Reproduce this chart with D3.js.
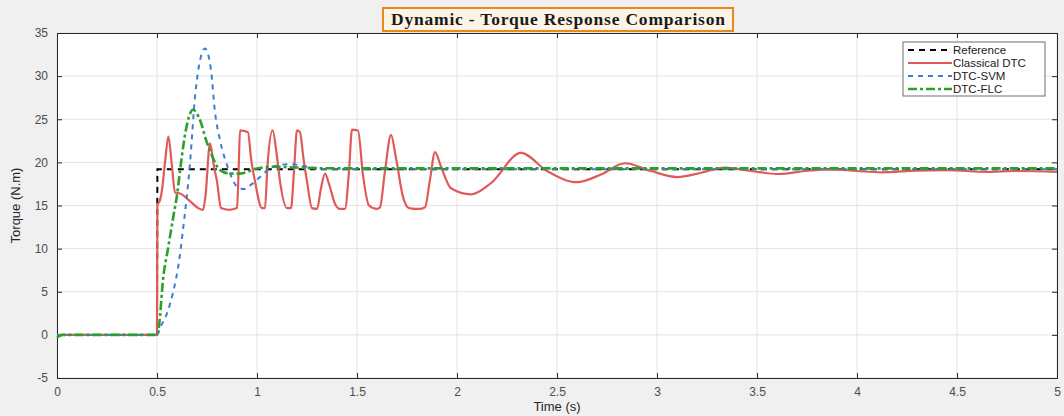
<!DOCTYPE html>
<html lang="en">
<head>
    <meta charset="UTF-8" />
    <title>Dynamic - Torque Response Comparison</title>
    <script src="https://d3js.org/d3.v7.min.js"></script>
    <style>
        body { margin: 0; background: #f0f0f0; }
        text { font-family: "Liberation Sans", Arial, sans-serif; }
    </style>
</head>
<body>
    <script>
        // x ticks / y ticks
        const xTicks = [0, 0.5, 1, 1.5, 2, 2.5, 3, 3.5, 4, 4.5, 5];
        const yTicks = [-5, 0, 5, 10, 15, 20, 25, 30, 35];

        // Reference (step)
        const tRef = [0, 0.5, 0.502, 5];
        const vRef = [0, 0, 19.2, 19.2];

        // Classical DTC
        const tDtc = [0, 0.5, 0.502, 0.515, 0.525, 0.54, 0.557, 0.575, 0.59, 0.615, 0.665, 0.706, 0.73,
            0.742, 0.765, 0.785, 0.8, 0.82, 0.86, 0.9, 0.908, 0.915, 0.955, 0.97, 0.99, 1.025, 1.04,
            1.052, 1.078, 1.098, 1.115, 1.15, 1.17, 1.185, 1.2, 1.215, 1.232, 1.25, 1.275, 1.3, 1.32,
            1.34, 1.36, 1.39, 1.415, 1.44, 1.46, 1.475, 1.505, 1.53, 1.56, 1.6, 1.615, 1.64, 1.67, 1.695,
            1.73, 1.76, 1.81, 1.84, 1.865, 1.89, 1.92, 1.97, 2.07, 2.17, 2.32, 2.45, 2.6, 2.72, 2.84,
            2.97, 3.1, 3.22, 3.34, 3.47, 3.61, 3.74, 3.87, 4.0, 4.12, 4.3, 4.45, 4.65, 4.8, 5.0];
        const vDtc = [0, 0, 15, 15.6, 16.8, 20, 23, 19.5, 16.5, 16.4, 15.5, 14.7, 14.5,
            16, 22.2, 19.5, 17.8, 14.7, 14.5, 14.7, 19, 23.7, 23.5, 20.5, 17.8, 14.7, 14.7,
            19.5, 23.7, 21, 17.8, 14.7, 14.7, 19, 23.7, 23.5, 20.5, 17.8, 14.7, 14.6, 17,
            18.7, 17.5, 15.2, 14.6, 14.6, 19, 23.8, 23.7, 18.5, 15, 14.6, 14.8, 19, 23.2, 20.5,
            16, 14.7, 14.6, 14.8, 18, 21.2, 19.5, 17, 16.3, 17.6, 21.1, 19, 17.7, 18.6, 19.9,
            19.0, 18.3, 18.8, 19.4, 19.0, 18.65, 19.0, 19.2, 19.0, 18.85, 19.05, 19.1, 18.9, 19.0, 18.9];

        // DTC-SVM
        const tSvm = [0, 0.5, 0.515, 0.55, 0.58, 0.61, 0.63, 0.665, 0.69, 0.715, 0.74, 0.77, 0.79,
            0.815, 0.856, 0.9, 0.935, 0.97, 1.015, 1.08, 1.165, 1.25, 1.35, 1.5, 5];
        const vSvm = [0, 0, 0.8, 2.5, 4.9, 8.5, 12.2, 19.9, 27.6, 31.8, 33.2, 30.7, 25.8,
            22.6, 19.3, 17.2, 16.9, 17.4, 18.3, 19.5, 19.8, 19.5, 19.2, 19.2, 19.2];

        // DTC-FLC
        const tFlc = [0, 0.03, 0.5, 0.51, 0.53, 0.555, 0.583, 0.6, 0.615, 0.64, 0.66, 0.68, 0.715,
            0.748, 0.773, 0.815, 0.865, 0.915, 1.0, 1.08, 1.2, 1.4, 5];
        const vFlc = [-0.3, 0, 0, 1, 6.4, 10, 13.9, 16.2, 19, 23.2, 25.3, 26.1, 24.9,
            22.4, 20.9, 19.1, 18.7, 18.7, 19.3, 19.5, 19.4, 19.3, 19.3];

        const width = 1064, height = 416;
        const margin = { left: 57, right: 7, top: 33, bottom: 38 };

        const x = d3.scaleLinear().domain([0, 5]).range([margin.left, width - margin.right]);
        const y = d3.scaleLinear().domain([-5, 35]).range([height - margin.bottom, margin.top]);

        const svg = d3.select("body").append("svg")
            .attr("width", width)
            .attr("height", height);

        svg.append("rect").attr("width", width).attr("height", height).attr("fill", "#f0f0f0");
        svg.append("rect")
            .attr("x", x(0)).attr("y", y(35))
            .attr("width", x(5) - x(0)).attr("height", y(-5) - y(35))
            .attr("fill", "#fff");

        // grid
        svg.append("g").selectAll("line").data(xTicks).join("line")
            .attr("x1", d => x(d)).attr("x2", d => x(d))
            .attr("y1", y(35)).attr("y2", y(-5))
            .attr("stroke", "#e3e3e3");
        svg.append("g").selectAll("line").data(yTicks).join("line")
            .attr("x1", x(0)).attr("x2", x(5))
            .attr("y1", d => y(d)).attr("y2", d => y(d))
            .attr("stroke", "#e3e3e3");

        // axes (MATLAB style ticks pointing inward)
        const axisColor = "#262626";
        const styleAxis = g => {
            g.select(".domain").attr("stroke", axisColor);
            g.selectAll(".tick line").attr("stroke", axisColor);
            g.selectAll(".tick text").attr("fill", "#4d4d4d")
                .style("font-size", "12px").style("font-family", "\"Liberation Sans\", Arial, sans-serif");
        };
        const plain = d => String(d);
        svg.append("g").attr("transform", `translate(0,${y(-5)})`)
            .call(d3.axisBottom(x).tickValues(xTicks).tickSize(-5).tickPadding(9).tickFormat(plain))
            .call(styleAxis);
        svg.append("g").attr("transform", `translate(0,${y(35)})`)
            .call(d3.axisTop(x).tickValues(xTicks).tickSize(-5).tickFormat(""))
            .call(styleAxis);
        svg.append("g").attr("transform", `translate(${x(0)},0)`)
            .call(d3.axisLeft(y).tickValues(yTicks).tickSize(-5).tickPadding(9).tickFormat(plain))
            .call(styleAxis);
        svg.append("g").attr("transform", `translate(${x(5)},0)`)
            .call(d3.axisRight(y).tickValues(yTicks).tickSize(-5).tickFormat(""))
            .call(styleAxis);

        // lines
        const zip = (ts, vs) => ts.map((t, i) => [t, vs[i]]);
        const smooth = d3.line().x(d => x(d[0])).y(d => y(d[1])).curve(d3.curveMonotoneX);
        const straight = d3.line().x(d => x(d[0])).y(d => y(d[1]));

        const series = [
            { name: "Reference", data: zip(tRef, vRef), color: "#000000", width: 2, dash: "6,5", gen: straight },
            { name: "Classical DTC", data: zip(tDtc, vDtc), color: "#e05a5a", width: 2.2, dash: null, gen: smooth },
            { name: "DTC-SVM", data: zip(tSvm, vSvm), color: "#3c7ed0", width: 2, dash: "5,5", gen: smooth },
            { name: "DTC-FLC", data: zip(tFlc, vFlc), color: "#2ca02c", width: 2.6, dash: "9,3,3,3", gen: smooth }
        ];

        const plot = svg.append("g");
        series.forEach(s => {
            plot.append("path")
                .attr("d", s.gen(s.data))
                .attr("fill", "none")
                .attr("stroke", s.color)
                .attr("stroke-width", s.width)
                .attr("stroke-dasharray", s.dash);
        });

        // title
        const title = svg.append("g");
        title.append("rect")
            .attr("x", 383).attr("y", 8).attr("width", 350).attr("height", 23)
            .attr("fill", "#fdf4e6").attr("stroke", "#e8891a").attr("stroke-width", 2);
        title.append("text")
            .attr("x", 558).attr("y", 25)
            .attr("text-anchor", "middle")
            .attr("textLength", 334).attr("lengthAdjust", "spacing")
            .style("font-family", "\"Liberation Serif\", \"Times New Roman\", serif")
            .style("font-weight", "bold").style("font-size", "17.5px")
            .attr("fill", "#1a1a1a")
            .text("Dynamic - Torque Response Comparison");

        // axis labels
        svg.append("text")
            .attr("x", x(2.5)).attr("y", 411)
            .attr("text-anchor", "middle")
            .style("font-size", "13px").attr("fill", "#262626")
            .text("Time (s)");
        svg.append("text")
            .attr("transform", `translate(20,${y(15)}) rotate(-90)`)
            .attr("text-anchor", "middle")
            .style("font-size", "13px").attr("fill", "#262626")
            .text("Torque (N.m)");

        // legend
        const legend = svg.append("g").attr("transform", "translate(903,42)");
        legend.append("rect")
            .attr("width", 142).attr("height", 54)
            .attr("fill", "#fff").attr("stroke", "#6e6e6e").attr("stroke-width", 1);
        series.forEach((s, i) => {
            const ly = 8 + i * 13;
            legend.append("line")
                .attr("x1", 5).attr("x2", 49).attr("y1", ly).attr("y2", ly)
                .attr("stroke", s.color).attr("stroke-width", s.width)
                .attr("stroke-dasharray", s.dash);
            legend.append("text")
                .attr("x", 50).attr("y", ly + 4)
                .style("font-size", "11.5px").attr("fill", "#1a1a1a")
                .text(s.name);
        });
    </script>
</body>
</html>
